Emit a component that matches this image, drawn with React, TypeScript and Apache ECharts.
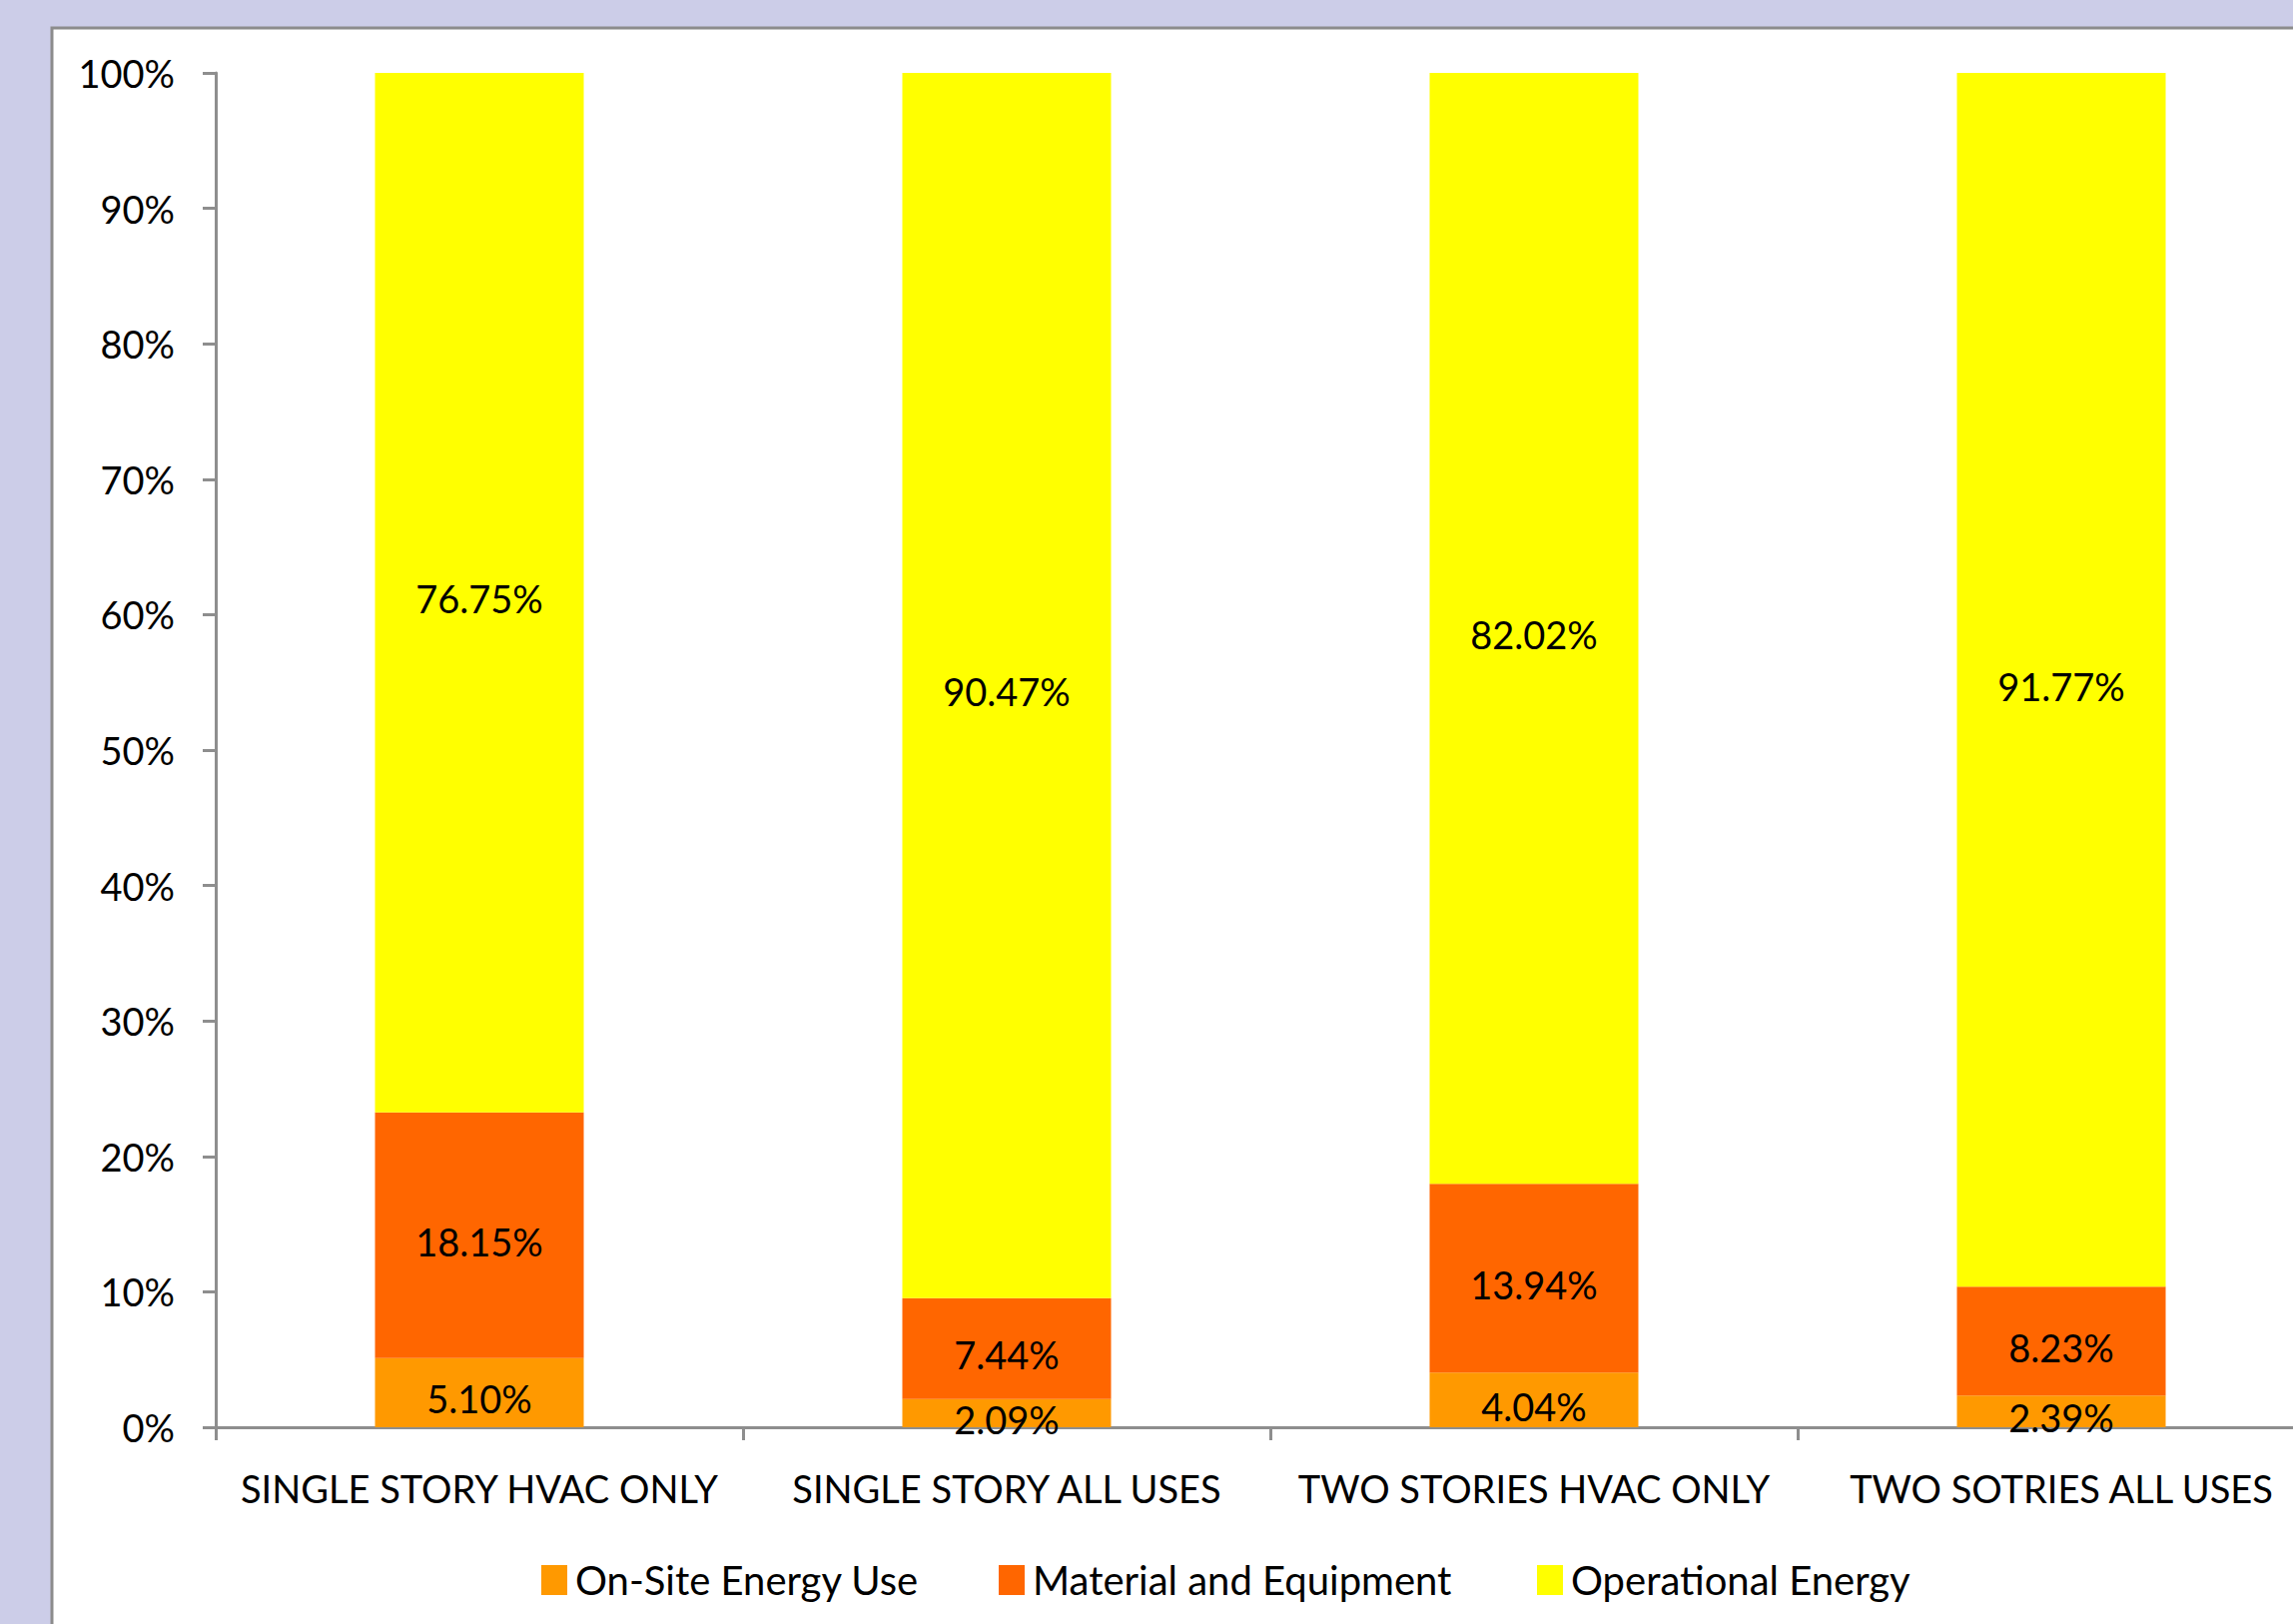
import React, { useEffect, useRef } from "react";
import * as echarts from "echarts";

const categories = [
  "SINGLE STORY HVAC ONLY",
  "SINGLE STORY ALL USES",
  "TWO STORIES HVAC ONLY",
  "TWO SOTRIES ALL USES",
];
const seriesNames = ["On-Site Energy Use", "Material and Equipment", "Operational Energy"];
const onSite = [5.1, 2.09, 4.04, 2.39];
const material = [18.15, 7.44, 13.94, 8.23];
const operational = [76.75, 90.47, 82.02, 91.77];
const yTicks = [0, 10, 20, 30, 40, 50, 60, 70, 80, 90, 100];
const colors = ["#FF9900", "#FF6600", "#FFFF00"];
const legendLefts = [537, 995, 1534];

const FONT = "Lato";

export default function App() {
  const ref = useRef<HTMLDivElement>(null);
  useEffect(() => {
    if (!ref.current) return;
    const chart = echarts.init(ref.current, undefined, { renderer: "svg" });
    const raw = [onSite, material, operational];
    const totals = categories.map((_, j) => raw.reduce((s, arr) => s + arr[j], 0));
    const series = raw.map((arr, i) => ({
      name: seriesNames[i],
      type: "bar",
      stack: "total",
      barWidth: 209,
      itemStyle: { color: colors[i] },
      data: arr.map((v, j) => (v / totals[j]) * 100),
      label: {
        show: true,
        position: "inside",
        offset: [0, 6],
        color: "#000",
        fontFamily: FONT,
        fontSize: 38,
        formatter: (p: any) => arr[p.dataIndex].toFixed(2) + "%",
      },
    }));
    const legends = seriesNames.map((name, i) => ({
      left: legendLefts[i],
      top: 1557,
      itemWidth: 26,
      itemHeight: 30,
      itemGap: 0,
      icon: "rect",
      selectedMode: false,
      textStyle: { fontFamily: FONT, fontSize: 40, color: "#000", padding: [0, 0, 0, 3] },
      data: [name],
    }));
    chart.setOption({
      animation: false,
      backgroundColor: "#CCCDE8",
      graphic: {
        elements: [
          {
            type: "rect",
            z: -10,
            shape: { x: 52, y: 28, width: 2400, height: 1800 },
            style: { fill: "#FFFFFF", stroke: "#8C8C8C", lineWidth: 3 },
          },
        ],
      },
      grid: { left: 216, top: 73, width: 2112, height: 1356, containLabel: false },
      legend: legends,
      xAxis: {
        type: "category",
        data: categories,
        boundaryGap: true,
        axisLine: { show: true, lineStyle: { color: "#8E8E8E", width: 3 } },
        axisTick: { show: true, length: 13, alignWithLabel: false, lineStyle: { color: "#8E8E8E", width: 3 } },
        axisLabel: { color: "#000", fontFamily: FONT, fontSize: 38, margin: 42, interval: 0 },
        splitLine: { show: false },
      },
      yAxis: {
        type: "value",
        min: yTicks[0],
        max: yTicks[yTicks.length - 1],
        interval: 10,
        axisLine: { show: true, lineStyle: { color: "#8E8E8E", width: 3 } },
        axisTick: { show: true, length: 13, lineStyle: { color: "#8E8E8E", width: 3 } },
        axisLabel: { color: "#000", fontFamily: FONT, fontSize: 38, margin: 41, formatter: "{value}%" },
        splitLine: { show: false },
      },
      series,
    });
    return () => chart.dispose();
  }, []);
  return (
    <div
      ref={ref}
      style={{ position: "fixed", left: 0, top: 0, width: 2340, height: 1626 }}
    />
  );
}
